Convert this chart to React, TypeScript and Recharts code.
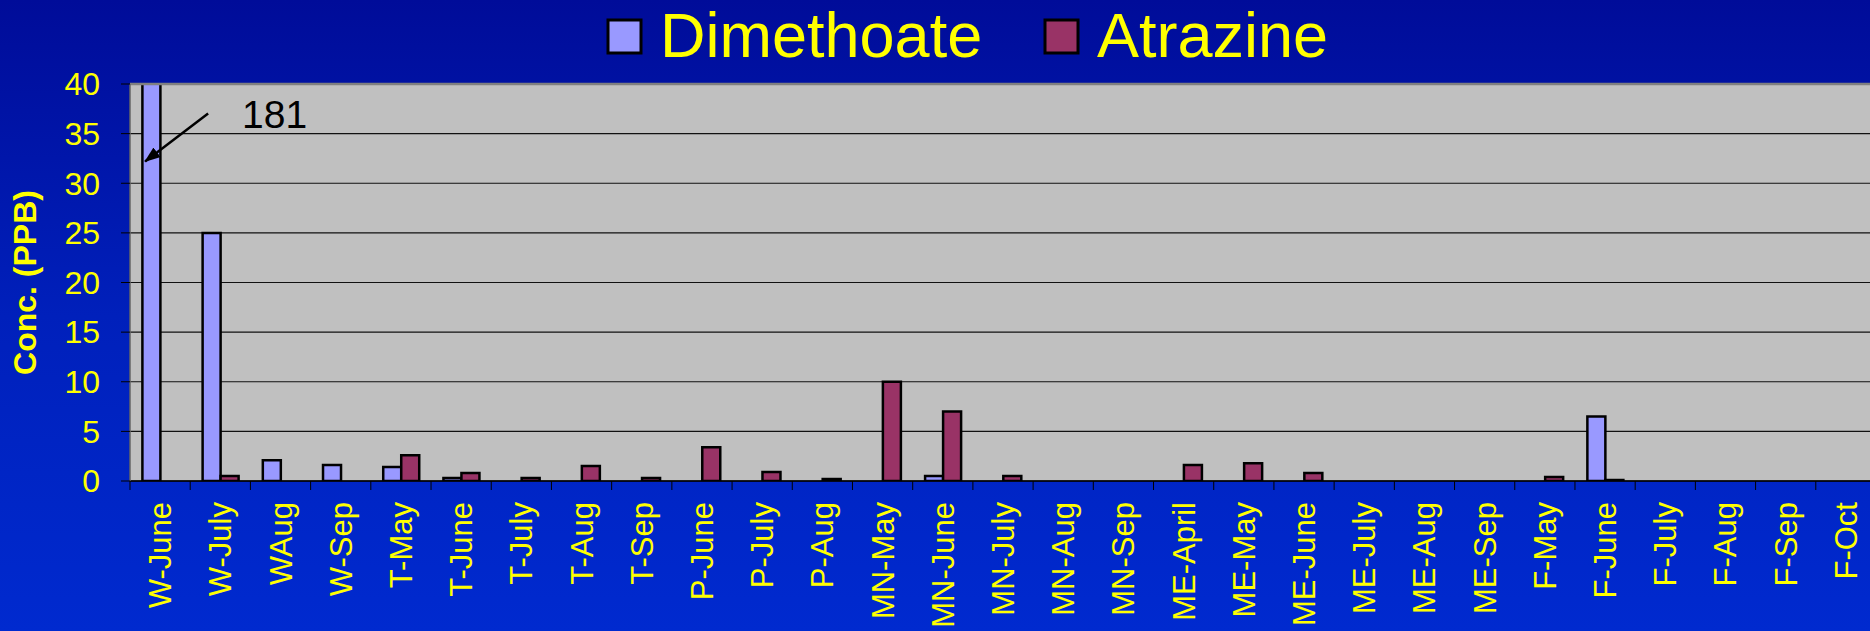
import { BarChart, Bar, XAxis, YAxis, CartesianGrid, ReferenceLine, ReferenceDot } from "recharts";

const categories = [
  "W-June", "W-July", "WAug", "W-Sep", "T-May", "T-June", "T-July", "T-Aug", "T-Sep",
  "P-June", "P-July", "P-Aug", "MN-May", "MN-June", "MN-July", "MN-Aug", "MN-Sep",
  "ME-April", "ME-May", "ME-June", "ME-July", "ME-Aug", "ME-Sep",
  "F-May", "F-June", "F-July", "F-Aug", "F-Sep", "F-Oct",
];
const dimethoate = [181, 25, 2.1, 1.6, 1.4, 0.3, 0, 0, 0, 0, 0, 0, 0, 0.5, 0, 0, 0, 0, 0, 0, 0, 0, 0, 0, 6.5, 0, 0, 0, 0];
const atrazine = [0, 0.5, 0, 0, 2.6, 0.8, 0.3, 1.5, 0.3, 3.4, 0.9, 0.2, 10, 7, 0.5, 0, 0, 1.6, 1.8, 0.8, 0, 0, 0, 0.4, 0.1, 0, 0, 0, 0];
const yTicks = [0, 5, 10, 15, 20, 25, 30, 35, 40];
const seriesNames = ["Dimethoate", "Atrazine"];
const seriesColors = ["#9999ff", "#993366"];
const peakLabel = "181";

const data = categories.map((name, i) => ({
  name,
  dimethoate: dimethoate[i],
  atrazine: atrazine[i],
}));

const W = 1880;
const H = 631;
const Y_AXIS_W = 130;
const X_AXIS_H = 150;
const RIGHT = 4;
const PLOT_BOTTOM = H - X_AXIS_H;
const bandHalf = (W - Y_AXIS_W - RIGHT) / categories.length / 2;
const font = "'Liberation Sans', Arial, sans-serif";
const yellow = "#ffff00";

function XTick({ x, payload }: any) {
  return (
    <g>
      <line x1={x - bandHalf} x2={x - bandHalf} y1={PLOT_BOTTOM} y2={PLOT_BOTTOM + 9} stroke="#000" strokeWidth={1} />
      <g transform={`translate(${x},${PLOT_BOTTOM + 21})`}>
        <text transform="rotate(-90)" textAnchor="end" dy="0.355em" fill={yellow} fontSize={31} fontFamily={font}>
          {payload.value}
        </text>
      </g>
    </g>
  );
}

function PeakArrow({ cx, cy }: any) {
  if (cx == null || cy == null) return null;
  return (
    <g>
      <defs>
        <marker id="arrowHead" markerWidth="16" markerHeight="12" refX="15" refY="6" orient="auto" markerUnits="userSpaceOnUse">
          <polygon points="0,0 16,6 0,12" fill="#000" />
        </marker>
      </defs>
      <line x1={cx + 48} y1={cy - 48} x2={cx - 15} y2={cy} stroke="#000" strokeWidth={2.5} markerEnd="url(#arrowHead)" />
      <text x={cx + 82} y={cy - 33} fontSize={39} fontFamily={font} fill="#000">
        {peakLabel}
      </text>
    </g>
  );
}

function YLabel({ viewBox }: any) {
  const y = viewBox ? viewBox.y + viewBox.height / 2 : 282;
  return (
    <text x={36} y={y} transform={`rotate(-90, 36, ${y})`} textAnchor="middle" fill={yellow} fontSize={32} fontWeight="bold" fontFamily={font}>
      Conc. (PPB)
    </text>
  );
}

function TopLegend() {
  const items = [
    { sq: 608, tx: 660 },
    { sq: 1045, tx: 1097 },
  ];
  return (
    <svg width={1870} height={80} style={{ position: "absolute", left: 0, top: 0 }}>
      {seriesNames.map((name, i) => (
        <g key={name}>
          <rect x={items[i].sq} y={20} width={33} height={33} fill={seriesColors[i]} stroke="#000" strokeWidth={3} />
          <text x={items[i].tx} y={57} fontSize={63} fontFamily={font} fill={yellow}>
            {name}
          </text>
        </g>
      ))}
    </svg>
  );
}

export default function App() {
  return (
    <div
      style={{
        position: "fixed",
        left: 0,
        top: 0,
        width: 1870,
        height: 631,
        overflow: "hidden",
        background: "linear-gradient(to bottom, #000c99 0%, #0020bb 50%, #002acf 100%)",
      }}
    >
      <TopLegend />
      <BarChart
        width={W}
        height={H}
        data={data}
        margin={{ top: 84, right: RIGHT, bottom: 0, left: 0 }}
        barCategoryGap="20.6%"
        barGap={0}
      >
        <CartesianGrid vertical={false} stroke="#111" strokeWidth={1.2} fill="#c0c0c0" fillOpacity={1} />
        <XAxis
          dataKey="name"
          interval={0}
          height={X_AXIS_H}
          tick={<XTick />}
          tickLine={false}
          axisLine={{ stroke: "#000", strokeWidth: 1.5 }}
        />
        <YAxis
          width={Y_AXIS_W}
          domain={[0, 40]}
          ticks={yTicks}
          allowDataOverflow
          tickSize={9}
          tickMargin={21}
          tickLine={{ stroke: "#000" }}
          axisLine={{ stroke: "#666", strokeWidth: 1.5 }}
          tick={{ fill: yellow, fontSize: 32, fontFamily: font }}
          label={<YLabel />}
        />
        <ReferenceLine y={40} stroke="#808080" strokeWidth={2.5} />
        <Bar dataKey="dimethoate" name={seriesNames[0]} fill={seriesColors[0]} stroke="#000" strokeWidth={2.5} isAnimationActive={false} />
        <Bar dataKey="atrazine" name={seriesNames[1]} fill={seriesColors[1]} stroke="#000" strokeWidth={2.5} isAnimationActive={false} />
        <ReferenceDot x="W-June" y={32.2} shape={<PeakArrow />} />
      </BarChart>
    </div>
  );
}
